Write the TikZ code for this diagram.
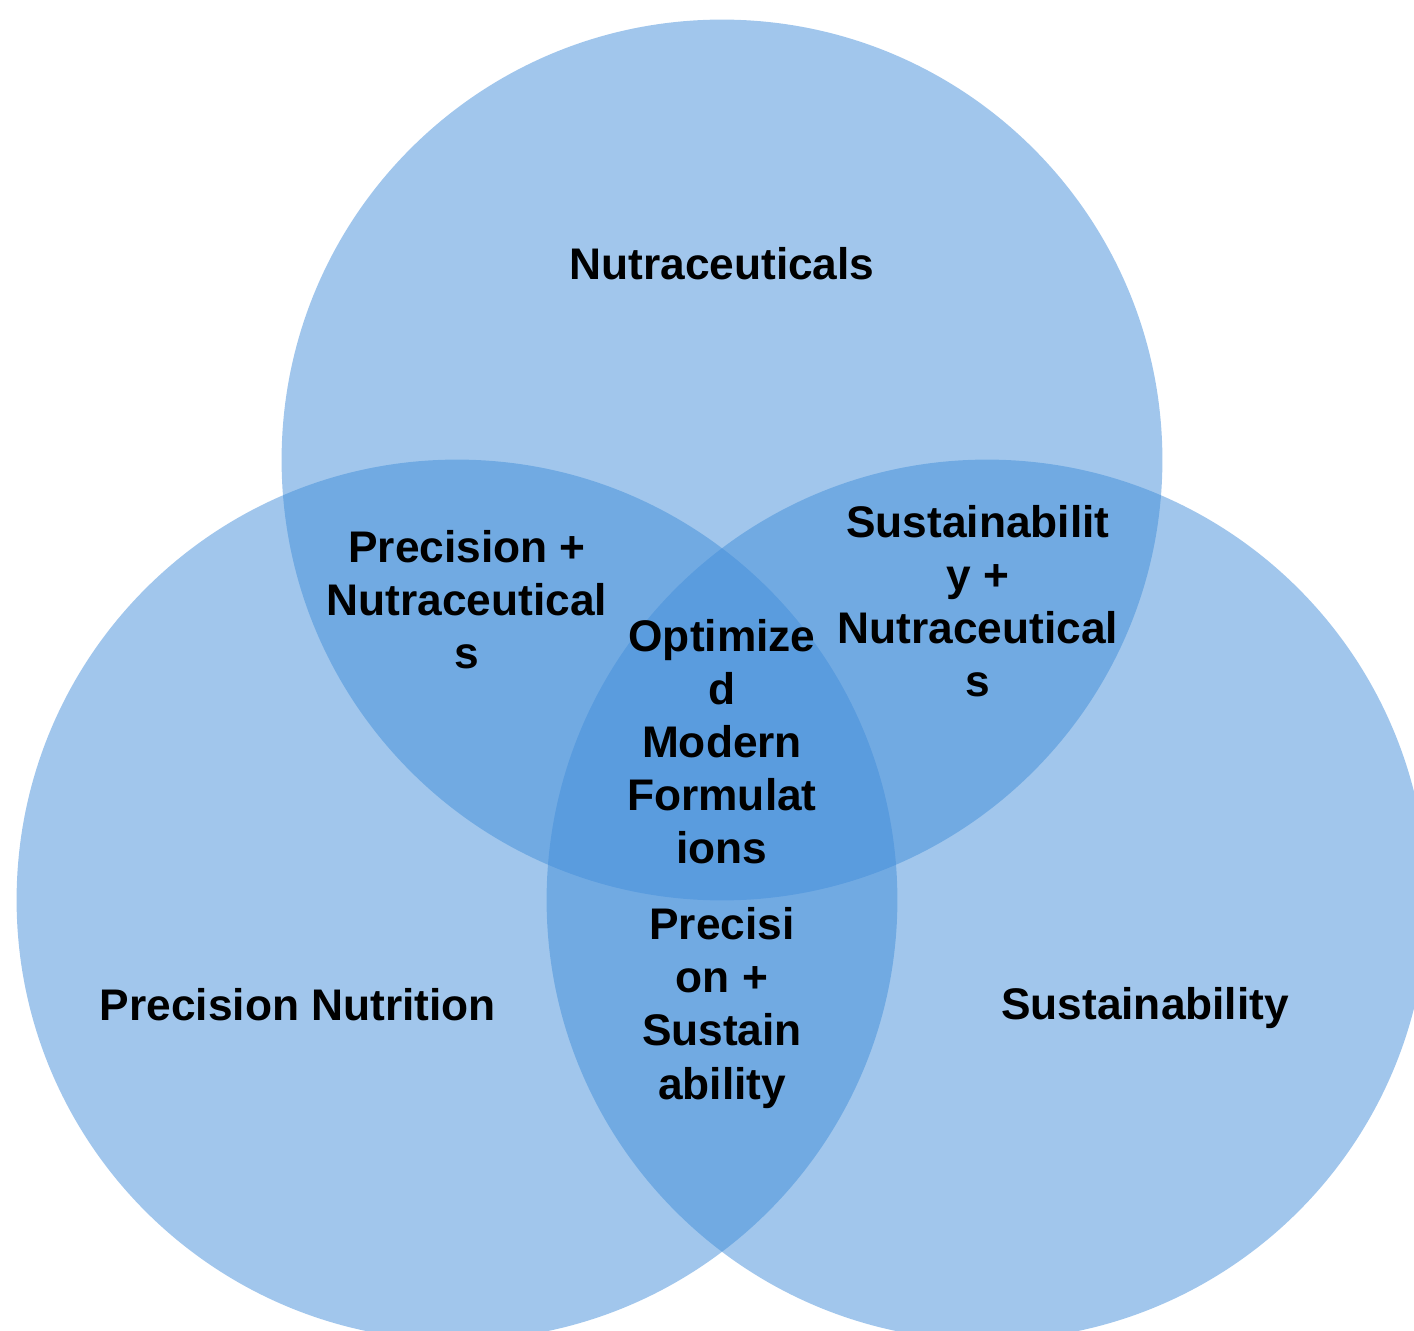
\documentclass[tikz,border=0pt]{standalone}
\usepackage{fontspec}
\setmainfont{Liberation Sans}
\usepackage{tikz}
\definecolor{vennblue}{RGB}{67,142,217}

\begin{document}
\begin{tikzpicture}[
                x=0.02cm, y=-0.02cm, % one unit per pixel, y downwards
                set/.style={fill=vennblue, fill opacity=0.5}, % Circle of one set
                every node/.style={align=center, font=\bfseries\fontsize{25.2}{30.2}\selectfont, inner sep=0pt} % Bold labels
                ]
                \useasboundingbox (0,0) rectangle (1414,1331);
                \fill[set] (722,460) circle [radius=8.81cm]; % Nutraceuticals
                \fill[set] (457,900) circle [radius=8.81cm]; % Precision Nutrition
                \fill[set] (987,900) circle [radius=8.81cm]; % Sustainability

                \node (nutra) at (722,264) {Nutraceuticals};
                \node (precision) at (298,1005) {Precision Nutrition};
                \node (sustain) at (1145,1008) {Sustainability};
                \node (precnut) at (467,600) {Precision +\\Nutraceutical\\s};
                \node (sustnut) at (978,601) {Sustainabilit\\y +\\Nutraceutical\\s};
                \node (core) at (722,742) {Optimize\\d\\Modern\\Formulat\\ions};
                \node (precsust) at (722,1008) {Precisi\\on +\\Sustain\\ability};
            \end{tikzpicture}
\end{document}
